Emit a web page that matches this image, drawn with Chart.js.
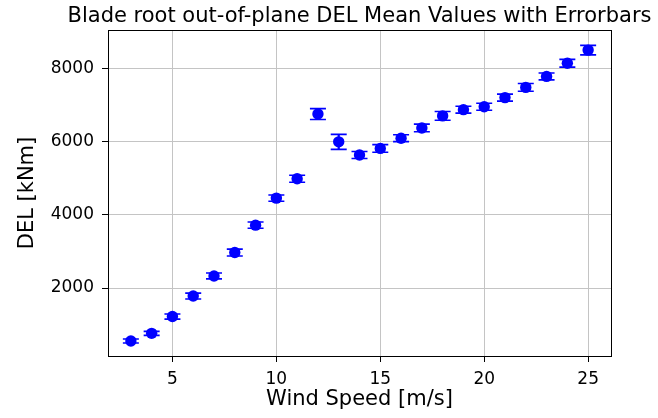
<!DOCTYPE html>
<html>
<head>
<meta charset="utf-8">
<script src="https://cdn.jsdelivr.net/npm/chart.js@4.4.1/dist/chart.umd.min.js"></script>
<style>
  html, body { margin: 0; padding: 0; background: #fff; }
  #wrap { width: 658px; height: 418px; }
</style>
</head>
<body>
<div id="wrap"><canvas id="chart" width="658" height="418"></canvas></div>
<script>
"use strict";

// mean DEL per wind speed bin, with +/- spread
const windSpeed = [3, 4, 5, 6, 7, 8, 9, 10, 11, 12, 13, 14, 15, 16, 17, 18, 19, 20, 21, 22, 23, 24, 25];
const delMean = [550, 760, 1220, 1780, 2330, 2970, 3720, 4460, 4990, 6760, 6000, 5640, 5820, 6100, 6380, 6710, 6880, 6960, 7210, 7490, 7790, 8150, 8510];
const delErr = [55, 55, 70, 80, 80, 95, 85, 85, 95, 150, 205, 95, 105, 95, 105, 120, 95, 95, 95, 105, 95, 105, 130];

const xTicks = [5, 10, 15, 20, 25];
const yTicks = [2000, 4000, 6000, 8000];

const FONT = "'DejaVu Sans', sans-serif";
const BLUE = '#0000ff';

const errorBars = {
    id: 'errorBars',
    beforeDatasetsDraw(chart) {
        const ctx = chart.ctx;
        const x = chart.scales.x;
        const y = chart.scales.y;
        const capHalf = 8;
        ctx.save();
        ctx.strokeStyle = BLUE;
        for (let i = 0; i < windSpeed.length; i++) {
            const px = x.getPixelForValue(windSpeed[i]);
            const top = y.getPixelForValue(delMean[i] + delErr[i]);
            const bot = y.getPixelForValue(delMean[i] - delErr[i]);
            ctx.lineWidth = 2.2;
            ctx.beginPath();
            ctx.moveTo(px, top);
            ctx.lineTo(px, bot);
            ctx.stroke();
            ctx.lineWidth = 1.6;
            ctx.beginPath();
            ctx.moveTo(px - capHalf, top);
            ctx.lineTo(px + capHalf, top);
            ctx.moveTo(px - capHalf, bot);
            ctx.lineTo(px + capHalf, bot);
            ctx.stroke();
        }
        ctx.restore();
    }
};

// frame round the plot area and the title over it
const frame = {
    id: 'frame',
    afterDraw(chart) {
        const {ctx, chartArea: a} = chart;
        ctx.save();
        ctx.strokeStyle = '#000';
        ctx.lineWidth = 1;
        ctx.strokeRect(Math.round(a.left) + 0.5, Math.round(a.top) + 0.5,
            Math.round(a.right - a.left), Math.round(a.bottom - a.top));
        ctx.fillStyle = '#000';
        ctx.font = "21px " + FONT;
        ctx.textAlign = 'center';
        ctx.textBaseline = 'alphabetic';
        ctx.fillText('Blade root out-of-plane DEL Mean Values with Errorbars', (a.left + a.right) / 2, 22);
        ctx.restore();
    }
};

const points = windSpeed.map((w, i) => ({x: w, y: delMean[i]}));

new Chart(document.getElementById('chart'), {
    type: 'scatter',
    data: {
        datasets: [{
            data: points,
            backgroundColor: BLUE,
            borderColor: BLUE,
            pointRadius: 5.7,
            pointHoverRadius: 5.7,
            borderWidth: 0
        }]
    },
    options: {
        responsive: false,
        animation: false,
        events: [],
        layout: { padding: { top: 30, right: 47, left: 0, bottom: 0 } },
        plugins: {
            legend: { display: false },
            tooltip: { enabled: false }
        },
        scales: {
            x: {
                type: 'linear',
                min: 1.9,
                max: 26.1,
                afterBuildTicks: (s) => { s.ticks = xTicks.map(v => ({value: v})); },
                afterFit: (s) => { s.height = 62; },
                grid: { color: '#c4c4c4', lineWidth: 1, tickColor: '#000', tickLength: 6 },
                border: { display: true, color: '#000', width: 1 },
                ticks: { color: '#000', padding: 7, font: { family: FONT, size: 17 } },
                title: { display: true, text: 'Wind Speed [m/s]', color: '#000',
                    padding: { top: 0, bottom: 6 }, font: { family: FONT, size: 21 } }
            },
            y: {
                type: 'linear',
                min: 140,
                max: 9060,
                afterBuildTicks: (s) => { s.ticks = yTicks.map(v => ({value: v})); },
                afterFit: (s) => { s.width = 108; },
                grid: { color: '#c4c4c4', lineWidth: 1, tickColor: '#000', tickLength: 6 },
                border: { display: true, color: '#000', width: 1 },
                ticks: { color: '#000', padding: 8, font: { family: FONT, size: 17 },
                    callback: (v) => String(v) },
                title: { display: true, text: 'DEL [kNm]', color: '#000',
                    padding: { top: 15, bottom: 0 }, font: { family: FONT, size: 21 } }
            }
        }
    },
    plugins: [errorBars, frame]
});
</script>
</body>
</html>
